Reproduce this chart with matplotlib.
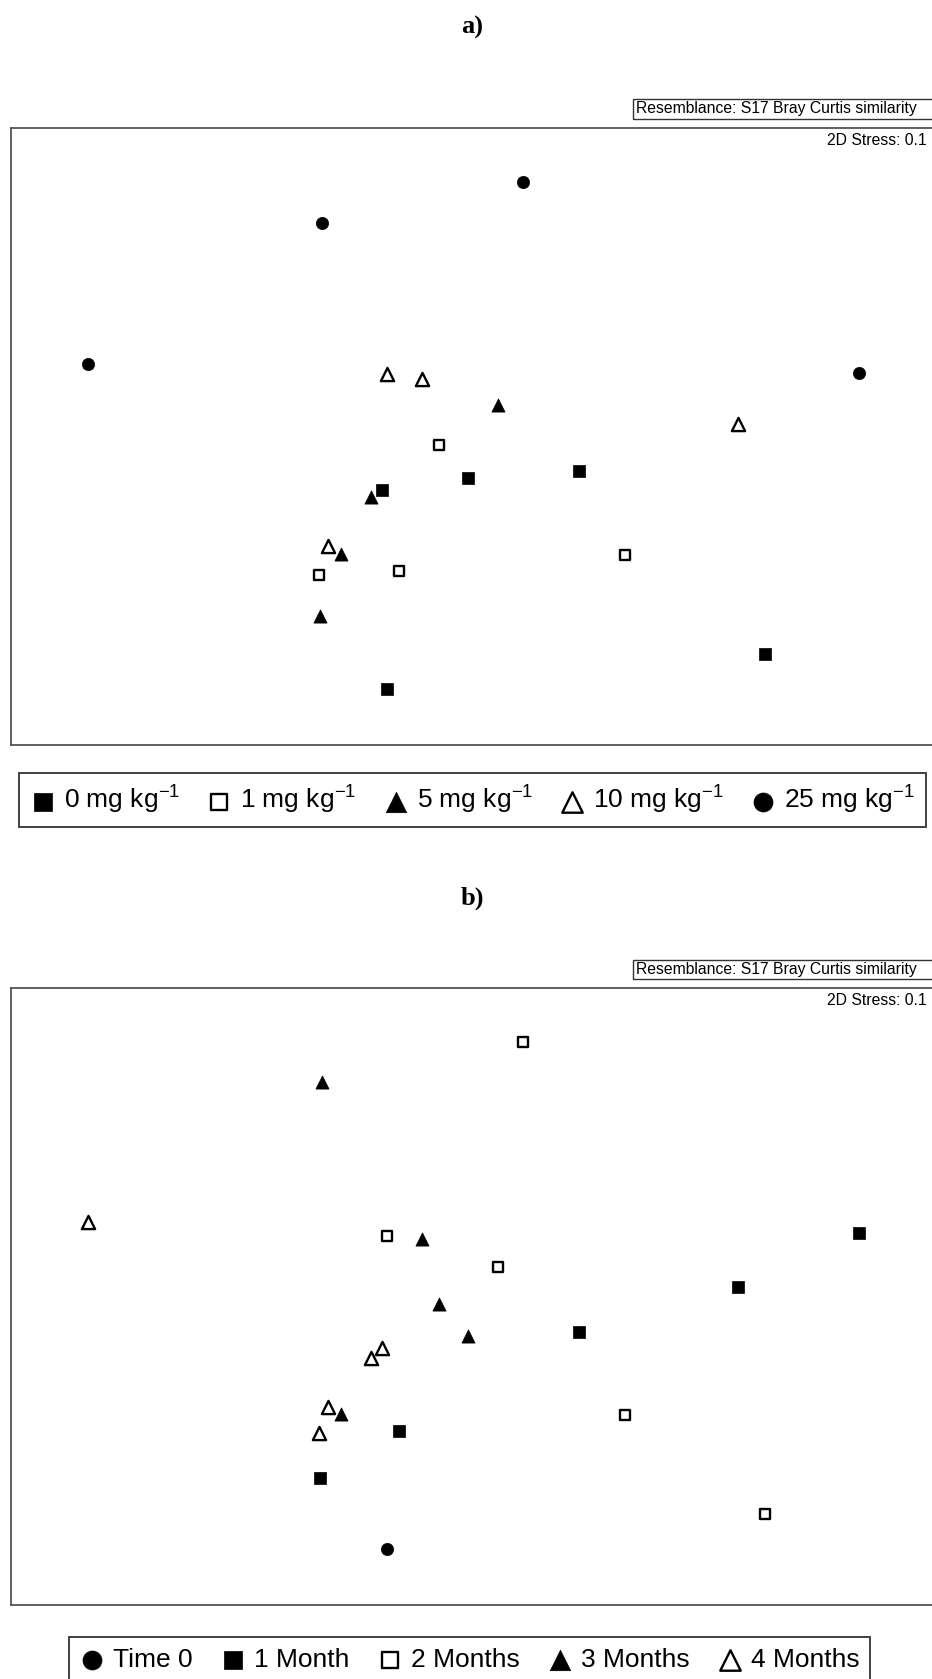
import matplotlib
matplotlib.use("Agg")
import matplotlib.pyplot as plt
from matplotlib.patches import Rectangle

plt.rcParams["font.family"] = ["Liberation Sans", "DejaVu Sans"]
plt.rcParams["mathtext.fontset"] = "custom"
plt.rcParams["mathtext.rm"] = "Liberation Sans"
plt.rcParams["mathtext.it"] = "Liberation Sans:italic"

# nMDS ordination coordinates (arbitrary units, y grows downward)
# panel a) grouped by dose
dose_labels = ["0 mg kg$^{-1}$", "1 mg kg$^{-1}$", "5 mg kg$^{-1}$",
               "10 mg kg$^{-1}$", "25 mg kg$^{-1}$"]
dose_x = [
    [357, 437, 540, 714, 361],
    [410, 298, 372, 583],
    [465, 346, 318, 299],
    [361, 394, 689, 306],
    [82, 301, 488, 802],
]
dose_y = [
    [457, 446, 440, 610, 643],
    [415, 537, 533, 518],
    [378, 464, 517, 575],
    [349, 354, 396, 510],
    [340, 208, 170, 348],
]

# panel b) grouped by sampling time
time_labels = ["Time 0", "1 Month", "2 Months", "3 Months", "4 Months"]
time_x = [
    [361],
    [802, 689, 540, 372, 299],
    [488, 361, 465, 583, 714],
    [301, 394, 410, 437, 318],
    [82, 357, 346, 306, 298],
]
time_y = [
    [643],
    [348, 398, 440, 533, 577],
    [170, 351, 380, 518, 610],
    [207, 354, 414, 444, 517],
    [338, 455, 465, 510, 535],
]

# marker style per group: (marker, filled, size)
dose_style = [("s", True, 68), ("s", False, 58), ("^", True, 90),
              ("^", False, 90), ("o", True, 78)]
time_style = [("o", True, 78), ("s", True, 68), ("s", False, 58),
              ("^", True, 90), ("^", False, 90)]

W, H = 932, 1679
fig = plt.figure(figsize=(W / 100, H / 100), dpi=100)


def fx(px):
    return px / W


def fy(py):
    return 1 - py / H


def panel(top, bottom, title, title_y, xs, ys, labels, styles,
          leg_x0, leg_x1, leg_y):
    ax = fig.add_axes([fx(10.7), fy(bottom), fx(945 - 10.7), (bottom - top) / H])
    for x, y, lab, (m, filled, s) in zip(xs, ys, labels, styles):
        ax.scatter(x, y, marker=m, s=s, label=lab,
                   facecolor="black" if filled else "white",
                   edgecolor="black", linewidth=1.7 if not filled else 0.5,
                   zorder=3)
    ax.set_xlim(10, 882)
    ax.set_ylim(695, 119)
    ax.set_xticks([])
    ax.set_yticks([])
    for sp in ax.spines.values():
        sp.set_color("#555555")
        sp.set_linewidth(1.3)

    fig.text(fx(472), fy(title_y), title, ha="center", va="center",
             fontsize=19, fontweight="bold", family="Liberation Serif")

    # resemblance box above the plot
    rtop = top - 28
    fig.patches.append(Rectangle((fx(633), fy(rtop + 19)), fx(320), 19 / H,
                                 transform=fig.transFigure, fill=False,
                                 edgecolor="#333333", linewidth=1.0))
    fig.text(fx(636), fy(rtop + 9.5), "Resemblance: S17 Bray Curtis similarity",
             ha="left", va="center", fontsize=11.3)
    fig.text(fx(827), fy(top + 13), "2D Stress: 0.1", ha="left", va="center",
             fontsize=11.3)

    handles, labs = ax.get_legend_handles_labels()
    leg = fig.legend(handles, labs, loc="center", ncol=5, mode="expand",
                     bbox_to_anchor=(fx(leg_x0), fy(leg_y), fx(leg_x1 - leg_x0), 0),
                     fontsize=19, markerscale=1.55, frameon=True, fancybox=False,
                     handletextpad=0.3, columnspacing=0.5, borderpad=0.4,
                     handlelength=1.0, borderaxespad=0)
    leg.get_frame().set_edgecolor("black")
    leg.get_frame().set_linewidth(1.3)
    return ax


panel(127.5, 744.6, "a)", 27, dose_x, dose_y, dose_labels, dose_style,
      19.3, 925.6, 800)
panel(987.7, 1604.8, "b)", 898, time_x, time_y, time_labels, time_style,
      68.6, 870, 1660)

fig.savefig("out.png", dpi=100)
